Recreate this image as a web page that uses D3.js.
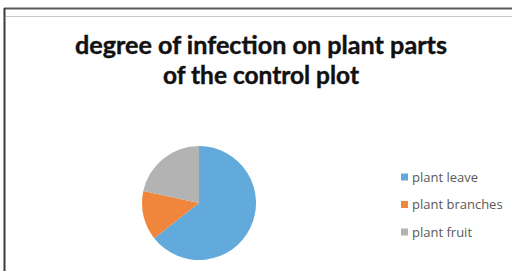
<!DOCTYPE html>
<html><head><meta charset="utf-8">
<script src="https://cdn.jsdelivr.net/npm/d3@7"></script>
<style>body{margin:0;background:#fff}svg{display:block}</style>
</head><body>
<script>
const categories = ["plant leave", "plant branches", "plant fruit"];
const values = [64.4, 14, 21.6];
const colors = ["#62a9dc", "#f0863c", "#b3b3b3"];
const titleLines = ["degree of infection on plant parts", "of the control plot"];

const W = 512, H = 271;
const svg = d3.select("body").append("svg").attr("width", W).attr("height", H);

// frame
svg.append("line").attr("x1", 4).attr("x2", W).attr("y1", 8.5).attr("y2", 8.5).attr("stroke", "#5a5a5a").attr("stroke-width", 2);
svg.append("line").attr("x1", 4.5).attr("x2", 4.5).attr("y1", 8).attr("y2", H).attr("stroke", "#3a3a3a").attr("stroke-width", 2);
svg.append("line").attr("x1", 6).attr("x2", W).attr("y1", 16.5).attr("y2", 16.5).attr("stroke", "#c8c8c8").attr("stroke-width", 1);

// title
const tl = [{t: titleLines[0], y: 54, w: 372}, {t: titleLines[1], y: 84, w: 196}];
svg.selectAll("text.title").data(tl).join("text").attr("class", "title")
  .attr("x", 261).attr("y", d => d.y).attr("text-anchor", "middle")
  .attr("font-family", "Lato, 'Open Sans', sans-serif").attr("font-weight", "bold")
  .attr("font-size", 24).attr("fill", "#111").attr("stroke", "#111").attr("stroke-width", 0.4)
  .attr("textLength", d => d.w).attr("lengthAdjust", "spacingAndGlyphs")
  .text(d => d.t);

// pie
const pie = d3.pie().sort(null).value(d => d);
const arc = d3.arc().innerRadius(0).outerRadius(57);
const color = d3.scaleOrdinal().domain(categories).range(colors);
svg.append("g").attr("transform", "translate(199,203)")
  .selectAll("path").data(pie(values)).join("path")
  .attr("d", arc).attr("fill", (d, i) => color(categories[i]));

// legend
const ly = d3.scalePoint().domain(categories).range([177, 232]);
const lg = svg.append("g");
lg.selectAll("rect").data(categories).join("rect")
  .attr("x", 401).attr("y", d => ly(d) - 3.5).attr("width", 7).attr("height", 7)
  .attr("fill", d => color(d));
lg.selectAll("text").data(categories).join("text")
  .attr("x", 412).attr("y", d => ly(d) + 4.5)
  .attr("font-family", "'Open Sans', Lato, sans-serif").attr("font-size", 13)
  .attr("fill", "#595959").text(d => d);
</script>
</body></html>
